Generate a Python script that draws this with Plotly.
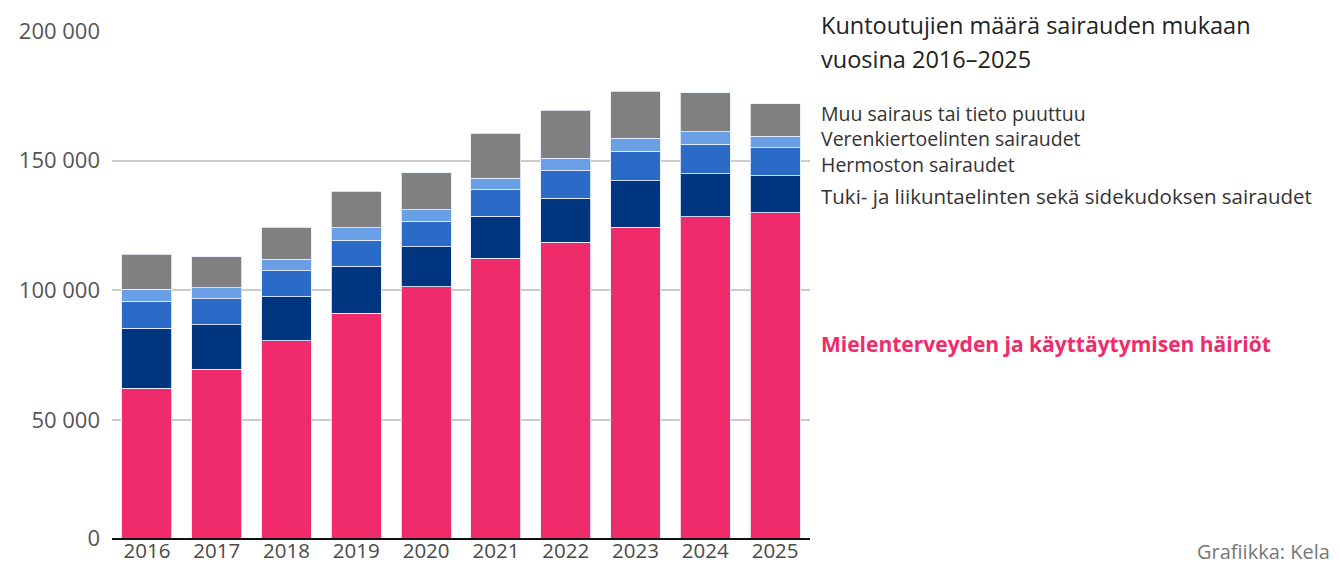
import plotly.graph_objects as go

years = ["2016", "2017", "2018", "2019", "2020", "2021", "2022", "2023", "2024", "2025"]

mielenterveys = [62200, 69600, 80600, 91200, 101400, 112400, 118600, 124400, 128300, 129900]
tuki_liikunta = [23200, 17200, 17000, 18100, 15400, 16200, 16900, 17900, 16700, 14300]
hermosto = [10400, 9900, 9900, 10000, 9900, 10400, 10900, 11300, 11400, 10700]
verenkierto = [4700, 4300, 4500, 4900, 4300, 4200, 4600, 5000, 4800, 4500]
muu = [13500, 12000, 12400, 14100, 14400, 17400, 18400, 18200, 15000, 12600]

series_names = [
    "Mielenterveyden ja käyttäytymisen häiriöt",
    "Tuki- ja liikuntaelinten sekä sidekudoksen sairaudet",
    "Hermoston sairaudet",
    "Verenkiertoelinten sairaudet",
    "Muu sairaus tai tieto puuttuu",
]
series_values = [mielenterveys, tuki_liikunta, hermosto, verenkierto, muu]
colors = ["#EF2B6B", "#00357F", "#2C6AC7", "#6A9FE5", "#808080"]

tick_vals = [4500, 50000, 100000, 150000, 200000]
tick_text = ["0", "50 000", "100 000", "150 000", "200 000"]

FONT = "Open Sans"

fig = go.Figure()
for name, vals, col in zip(series_names, series_values, colors):
    fig.add_trace(go.Bar(
        x=years, y=vals, name=name,
        marker=dict(color=col, line=dict(color="rgba(230,238,255,0.85)", width=1)),
    ))

L, R, T, B = 112, 530, 31, 28
W, H = 1340, 566
pw = W - L - R
ph = H - T - B

def px(x):
    return (x - L) / pw

def py(y):
    return (H - B - y) / ph

fig.update_layout(
    width=W, height=H,
    barmode="stack", bargap=0.284,
    showlegend=False,
    plot_bgcolor="white", paper_bgcolor="white",
    margin=dict(l=L, r=R, t=T, b=B, pad=0),
    font=dict(family=FONT, color="#444"),
    xaxis=dict(
        automargin=False,
        showgrid=False, showline=True, linecolor="#111", linewidth=1.5,
        tickfont=dict(size=20.5, color="#4a4a4a"), ticks="", ticklabelstandoff=-6,
    ),
    yaxis=dict(
        automargin=False,
        range=[4500, 200000], tickvals=tick_vals, ticktext=tick_text,
        showgrid=True, gridcolor="#cccccc", gridwidth=1.5,
        zeroline=False, showline=False,
        tickfont=dict(size=22, color="#555"), ticks="", ticklabelstandoff=11,
    ),
)

ann = [
    ("Kuntoutujien määrä sairauden mukaan", 820, 25, 23.5, "#222"),
    ("vuosina 2016–2025", 820, 59, 23.5, "#222"),
    ("Muu sairaus tai tieto puuttuu<br>Verenkiertoelinten sairaudet<br>Hermoston sairaudet", 820, 139, 19.5, "#333"),
    ("Tuki- ja liikuntaelinten sekä sidekudoksen sairaudet", 820, 196, 20.5, "#333"),
    ("<b>Mielenterveyden ja käyttäytymisen häiriöt</b>", 820, 344, 21, "#EF2B6B"),
]
for text, x, y, size, col in ann:
    fig.add_annotation(
        text=text, xref="paper", yref="paper", x=px(x), y=py(y),
        xanchor="left", yanchor="middle", align="left", showarrow=False,
        borderpad=0,
        font=dict(size=size, color=col, family=FONT),
    )

fig.add_annotation(
    text="Grafiikka: Kela", xref="paper", yref="paper", x=px(1331), y=py(551),
    xanchor="right", yanchor="middle", showarrow=False, borderpad=0,
    font=dict(size=20, color="#777", family=FONT),
)

fig.write_html("out.html")
